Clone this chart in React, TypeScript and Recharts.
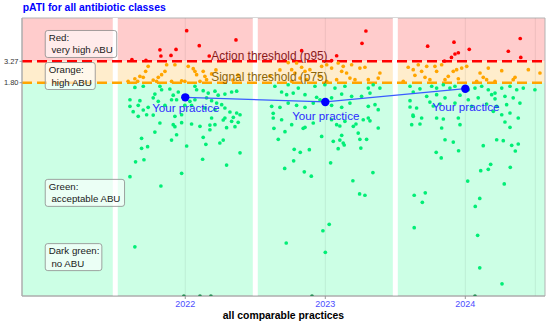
import React from 'react';
import { ComposedChart, Scatter, XAxis, YAxis, ReferenceArea, ReferenceLine } from 'recharts';

type Pt = [number, number];

const FONT = '"Liberation Sans", Arial, Helvetica, sans-serif';

// axis ranges (log y axis)
const X_MIN = 2020.834;
const X_MAX = 2024.569;
const Y_MIN = 0.0047;
const Y_MAX = 10.94;

const YEAR_TICKS = [2022, 2023, 2024];
const Y_TICKS = [1.8, 3.27];
const ACTION_P95 = 3.27;
const SIGNAL_P75 = 1.8;
const PANEL_GAPS = [2021.5, 2022.5, 2023.5];
const GRID_X = [2022, 2023, 2024, 2024.5];

// your practice
const practiceYears = [2022, 2023, 2024];
const practiceValues = [1.197, 1.052, 1.524];

// all comparable practices, [jittered year, pATI]
const red2022: Pt[] = [[2022.010, 7.68], [2022.362, 5.93], [2022.100, 5.05], [2021.934, 4.55], [2021.819, 4.50], [2021.898, 3.85], [2021.826, 3.79], [2022.171, 3.79], [2021.619, 3.44], [2021.719, 3.36]];
const red2023: Pt[] = [[2023.290, 7.61], [2023.262, 5.40], [2022.831, 4.40], [2023.081, 3.82], [2023.045, 3.34]];
const red2024: Pt[] = [[2023.731, 4.98], [2023.919, 5.57], [2024.028, 4.57], [2023.950, 4.15], [2023.926, 4.01], [2023.901, 3.64], [2023.851, 3.30], [2024.307, 4.33], [2024.392, 6.18], [2024.396, 3.64]];

const orange2022: Pt[] = [[2021.867, 2.97], [2021.735, 2.84], [2021.717, 2.47], [2021.676, 2.15], [2021.640, 2.01], [2021.700, 2.09], [2021.660, 1.87], [2021.855, 2.47], [2021.831, 2.25], [2021.807, 2.09], [2021.771, 1.94], [2021.795, 1.87], [2022.021, 2.84], [2022.057, 2.66], [2022.069, 2.47], [2022.081, 2.25], [2022.128, 2.47], [2022.140, 2.15], [2022.152, 1.96], [2021.974, 1.90], [2021.997, 1.87], [2022.105, 1.87], [2021.902, 1.87], [2022.188, 2.30], [2021.592, 1.87], [2021.926, 2.97], [2022.219, 2.57], [2022.340, 1.94], [2022.376, 2.23]];
const orange2023: Pt[] = [[2022.735, 3.16], [2022.795, 3.12], [2022.831, 2.77], [2022.760, 2.59], [2022.783, 2.36], [2022.855, 2.47], [2022.890, 2.59], [2022.819, 2.05], [2022.867, 1.96], [2022.760, 1.87], [2022.974, 2.84], [2023.010, 2.97], [2023.045, 2.71], [2023.092, 3.12], [2023.128, 2.84], [2023.188, 2.97], [2023.247, 2.71], [2023.283, 2.77], [2023.152, 2.36], [2023.176, 2.05], [2023.212, 1.96], [2023.081, 1.96], [2023.010, 1.87], [2022.962, 2.15], [2023.307, 1.96], [2023.378, 2.05], [2023.390, 2.36], [2023.117, 2.47], [2022.676, 2.57], [2022.605, 2.17]];
const orange2024: Pt[] = [[2023.592, 2.77], [2023.628, 2.59], [2023.664, 2.97], [2023.724, 2.84], [2023.688, 2.47], [2023.640, 2.21], [2023.712, 2.09], [2023.747, 1.96], [2023.557, 1.87], [2023.783, 2.84], [2023.795, 2.47], [2023.878, 2.15], [2023.855, 1.96], [2023.914, 2.47], [2023.938, 2.59], [2023.974, 2.71], [2024.010, 2.84], [2023.950, 2.01], [2024.105, 2.36], [2024.128, 2.09], [2024.152, 1.96], [2024.164, 2.71], [2024.260, 2.52], [2024.342, 1.96], [2024.355, 2.09], [2024.450, 2.59], [2024.533, 2.36], [2024.081, 1.87], [2024.212, 1.87], [2023.831, 2.97]];

const green2022: Pt[] = [
  [2021.640, 1.58], [2021.700, 1.63], [2021.819, 1.63], [2021.831, 1.48], [2021.890, 1.51], [2021.950, 1.39], [2022.069, 1.63], [2022.081, 1.48], [2022.128, 1.44], [2022.164, 1.35], [2022.212, 1.42], [2022.235, 1.27], [2022.283, 1.31], [2022.331, 1.39], [2022.367, 1.42], [2021.783, 1.31], [2021.914, 1.27],
  [2021.605, 1.12], [2021.676, 1.09], [2021.771, 1.18], [2021.807, 1.07], [2021.902, 1.12], [2021.938, 1.12], [2022.033, 1.07], [2022.069, 1.12], [2022.152, 1.18], [2022.188, 1.09], [2022.224, 1.02], [2022.260, 0.975],
  [2021.605, 0.932], [2021.664, 0.959], [2021.735, 0.906], [2021.855, 0.959], [2021.997, 0.959], [2022.045, 0.959], [2022.140, 0.889], [2022.212, 0.848], [2022.283, 0.889], [2022.319, 0.795], [2022.367, 0.773],
  [2021.700, 0.841], [2021.628, 0.802], [2021.664, 0.705], [2021.724, 0.737], [2021.771, 0.731], [2021.926, 0.705], [2021.974, 0.737], [2022.188, 0.673], [2022.283, 0.673], [2022.343, 0.686], [2022.391, 0.737],
  [2021.819, 0.585], [2021.914, 0.558], [2021.974, 0.590], [2021.926, 0.528], [2022.045, 0.569], [2022.105, 0.534], [2022.176, 0.553], [2022.271, 0.636], [2022.295, 0.513], [2022.355, 0.528], [2022.378, 0.597], [2022.331, 0.614], [2022.212, 0.558], [2022.176, 0.485],
  [2021.783, 0.455], [2021.938, 0.422], [2021.688, 0.382], [2021.902, 0.364], [2022.128, 0.393], [2022.271, 0.364], [2022.147, 0.323], [2022.010, 0.308], [2022.247, 0.335], [2021.731, 0.302], [2021.688, 0.289], [2022.391, 0.255],
  [2021.645, 0.198], [2021.705, 0.210], [2022.124, 0.213], [2022.295, 0.181], [2021.605, 0.131], [2021.974, 0.144], [2021.826, 0.101], [2021.640, 0.0185],
];
const green2023: Pt[] = [
  [2022.640, 1.63], [2022.735, 1.70], [2022.807, 1.55], [2022.926, 1.63], [2022.997, 1.70], [2023.069, 1.55], [2023.140, 1.63], [2023.307, 1.55], [2023.342, 1.70], [2023.390, 1.55],
  [2022.688, 1.39], [2022.724, 1.29], [2022.771, 1.35], [2022.855, 1.29], [2022.938, 1.20], [2022.962, 1.12], [2023.045, 1.18], [2023.117, 1.31], [2023.188, 1.23], [2023.259, 1.23], [2023.319, 1.35],
  [2022.617, 0.932], [2022.676, 0.906], [2022.735, 1.02], [2022.795, 0.959], [2022.855, 0.906], [2022.914, 1.02], [2023.045, 0.959], [2023.117, 0.906], [2023.176, 1.02], [2023.307, 0.932], [2023.355, 0.975], [2023.378, 0.848],
  [2022.628, 0.767], [2022.628, 0.673], [2022.688, 0.641], [2022.760, 0.558], [2022.855, 0.519], [2022.914, 0.585], [2023.045, 0.641], [2023.081, 0.558], [2023.140, 0.614], [2023.200, 0.534], [2023.271, 0.641], [2023.307, 0.673], [2023.378, 0.509], [2022.633, 0.504], [2022.712, 0.459], [2022.842, 0.504], [2023.319, 0.622], [2023.219, 0.569], [2023.104, 0.538],
  [2022.664, 0.371], [2022.974, 0.403], [2023.117, 0.415], [2023.235, 0.442], [2023.057, 0.351], [2023.128, 0.335], [2023.104, 0.364], [2023.247, 0.371], [2023.295, 0.371],
  [2022.778, 0.281], [2022.821, 0.258], [2022.886, 0.278], [2023.092, 0.286], [2023.135, 0.317], [2023.254, 0.291],
  [2022.774, 0.204], [2022.710, 0.165], [2022.850, 0.150], [2022.900, 0.133], [2023.038, 0.193], [2023.340, 0.147], [2023.197, 0.117], [2023.245, 0.081], [2023.283, 0.078], [2023.028, 0.0347], [2022.983, 0.0290], [2022.721, 0.0206], [2023.000, 0.0159],
];
const green2024: Pt[] = [
  [2023.605, 1.63], [2023.676, 1.52], [2023.760, 1.63], [2023.795, 1.55], [2023.843, 1.70], [2023.890, 1.55], [2023.926, 1.63], [2024.021, 1.48], [2024.069, 1.55], [2024.117, 1.63], [2024.164, 1.48], [2024.212, 1.35], [2024.260, 1.55], [2024.319, 1.63], [2024.367, 1.48], [2024.414, 1.55], [2024.497, 1.48],
  [2023.628, 1.39], [2023.724, 1.23], [2023.795, 1.29], [2023.855, 1.18], [2023.962, 1.27], [2024.021, 1.12], [2024.092, 1.18], [2024.188, 1.29], [2024.212, 1.15], [2024.283, 1.23], [2024.342, 1.18],
  [2023.605, 1.09], [2023.652, 0.889], [2023.747, 1.05], [2023.819, 0.994], [2023.926, 1.02], [2024.045, 0.932], [2024.152, 0.994], [2024.224, 0.932], [2024.295, 0.975], [2024.390, 1.02], [2024.319, 0.773], [2024.260, 0.737], [2024.200, 0.811], [2023.605, 0.915], [2023.626, 0.731], [2023.771, 0.940],
  [2023.628, 0.705], [2023.688, 0.673], [2023.795, 0.673], [2023.843, 0.654], [2023.950, 0.673], [2023.617, 0.558], [2023.676, 0.569], [2023.831, 0.509], [2023.962, 0.558], [2024.283, 0.602], [2024.319, 0.519], [2024.378, 0.673],
  [2023.855, 0.367], [2023.914, 0.344], [2024.128, 0.311], [2024.224, 0.367], [2024.271, 0.357], [2024.331, 0.314], [2024.378, 0.326],
  [2023.792, 0.258], [2023.828, 0.221], [2023.952, 0.270], [2024.357, 0.268], [2024.181, 0.185], [2024.110, 0.155], [2024.164, 0.161], [2024.321, 0.170], [2024.017, 0.116], [2024.278, 0.107],
  [2023.635, 0.078], [2023.714, 0.0835], [2023.693, 0.0640], [2024.103, 0.0715], [2024.071, 0.0572], [2023.635, 0.0316], [2024.088, 0.0255], [2024.103, 0.0103], [2024.262, 0.0066],
];

// practices with no antibiotic use (pATI = 0), drawn on the bottom edge
const zeroYears = [2021.990, 2022.105, 2022.183, 2022.905, 2024.069];

// zone labels in the left panel
const zoneAnchors = [5.3, 2.17, 0.0834, 0.0139];
const zoneHeads = ['Red:', 'Orange:', 'Green:', 'Dark green:'];
const zoneTails = ['very high ABU', 'high ABU', 'acceptable ABU', 'no ABU'];
const ZONE_BOX_W = [71.5, 50, 79.3, 56.6];

const LABEL_DY: Record<number, number> = { 2022: 15, 2023: 17.6, 2024: 22.6 };

const toRows = (pts: Pt[]) => pts.map(([x, y]) => ({ x, y }));
const redData = toRows([...red2022, ...red2023, ...red2024]);
const orangeData = toRows([...orange2022, ...orange2023, ...orange2024]);
const greenData = toRows([...green2022, ...green2023, ...green2024]);
const zeroData = zeroYears.map(x => ({ x, y: Y_MIN }));
const practiceData = practiceYears.map((x, i) => ({ x, y: practiceValues[i] }));
const zoneData = zoneAnchors.map((y, i) => ({ x: 2021, y, i }));
const thresholdData = [
  { x: 2022.601, y: ACTION_P95, text: 'Action threshold (p95)', color: '#8b1a1a' },
  { x: 2022.601, y: SIGNAL_P75, text: 'Signal threshold (p75)', color: '#8b6508' },
];

const dot = (fill: string) => (p: any) => <circle cx={p.cx} cy={p.cy} r={1.85} fill={fill} />;

const PracticeDot = (p: any) => {
  const dy = LABEL_DY[p.payload.x] ?? 16;
  return (
    <g>
      <circle cx={p.cx} cy={p.cy} r={4.2} fill="#0000ff" />
      <text x={p.cx + 0.5} y={p.cy + dy} textAnchor="middle" fontSize={11.6} fill="#2b2bff" fontFamily={FONT}>
        Your practice
      </text>
    </g>
  );
};

const ZoneBox = (p: any) => {
  const i = p.payload.i;
  const h = 27;
  const top = p.cy - h / 2;
  return (
    <g>
      <rect x={p.cx} y={top} width={ZONE_BOX_W[i]} height={h} rx={2.5} fill="rgba(255,255,255,0.6)" stroke="#8c8c8c" strokeWidth={0.8} />
      <text x={p.cx + 3.5} y={top + 10.3} fontSize={9.7} fill="#1a1a1a" fontFamily={FONT}>{zoneHeads[i]}</text>
      <text x={p.cx + 6.2} y={top + 23} fontSize={9.7} fill="#1a1a1a" fontFamily={FONT}>{zoneTails[i]}</text>
    </g>
  );
};

const ThresholdText = (p: any) => (
  <text x={p.cx} y={p.cy - 1.5} textAnchor="middle" fontSize={11.9} fill={p.payload.color} fontFamily={FONT}>
    {p.payload.text}
  </text>
);

const XTitle = (props: any) => {
  const vb = props.viewBox;
  return (
    <text x={vb.x + vb.width / 2} y={vb.y + 23} textAnchor="middle" fontSize={10.4} fontWeight="bold" fill="#000" fontFamily={FONT}>
      all comparable practices
    </text>
  );
};

export default function App() {
  return (
    <div style={{ position: 'absolute', left: 0, top: 0, width: 550, height: 324, background: '#fff', fontFamily: FONT }}>
      <div style={{ position: 'absolute', left: 22.7, top: 2.7, fontSize: 10.4, lineHeight: '10.4px', fontWeight: 'bold', color: '#0000ff', whiteSpace: 'nowrap' }}>
        pATI for all antibiotic classes
      </div>
      <ComposedChart width={550} height={324} margin={{ top: 18, right: 5, bottom: 0, left: 0 }} style={{ fontFamily: FONT }}>
        <XAxis
          type="number"
          dataKey="x"
          domain={[X_MIN, X_MAX]}
          ticks={YEAR_TICKS}
          allowDataOverflow
          height={28}
          tickSize={3}
          tickMargin={2}
          tick={{ fontSize: 9, fill: '#4d4dff' }}
          tickLine={{ stroke: '#999' }}
          axisLine={{ stroke: '#aaa' }}
          label={<XTitle />}
        />
        <YAxis
          type="number"
          dataKey="y"
          scale="log"
          domain={[Y_MIN, Y_MAX]}
          ticks={Y_TICKS}
          allowDataOverflow
          width={22}
          tickSize={2.5}
          tickMargin={1}
          tickFormatter={(v: number) => v.toFixed(2)}
          tick={{ fontSize: 7.5, fill: '#333' }}
          tickLine={{ stroke: '#999' }}
          axisLine={{ stroke: '#aaa' }}
        />
        <ReferenceArea y1={ACTION_P95} y2={Y_MAX} fill="#ffcccc" fillOpacity={1} stroke="none" />
        <ReferenceArea y1={SIGNAL_P75} y2={ACTION_P95} fill="#ffedcc" fillOpacity={1} stroke="none" />
        <ReferenceArea y1={Y_MIN} y2={SIGNAL_P75} fill="#ccffe5" fillOpacity={1} stroke="none" />
        {GRID_X.map(x => (
          <ReferenceLine key={`g${x}`} x={x} stroke="#000" strokeOpacity={0.07} strokeWidth={1} />
        ))}
        {PANEL_GAPS.map(x => (
          <ReferenceLine key={`s${x}`} x={x} stroke="#ffffff" strokeWidth={5} />
        ))}
        <ReferenceLine y={ACTION_P95} stroke="#ff0000" strokeWidth={2.5} strokeDasharray="10 5" />
        <ReferenceLine y={SIGNAL_P75} stroke="#ffa500" strokeWidth={2.5} strokeDasharray="10 5" />
        <ReferenceArea x1={X_MIN} x2={X_MAX} y1={Y_MIN} y2={Y_MAX} fill="none" stroke="#b3b3b3" strokeWidth={1} />
        <Scatter data={greenData} shape={dot('#00ee76')} isAnimationActive={false} />
        <Scatter data={orangeData} shape={dot('#ffa500')} isAnimationActive={false} />
        <Scatter data={redData} shape={dot('#ff0000')} isAnimationActive={false} />
        <Scatter data={zeroData} shape={dot('#2e8b57')} isAnimationActive={false} />
        <Scatter data={thresholdData} shape={ThresholdText} isAnimationActive={false} />
        <Scatter
          data={practiceData}
          shape={PracticeDot}
          line={{ stroke: '#3a5cff', strokeWidth: 1.2 }}
          lineType="joint"
          isAnimationActive={false}
        />
        <Scatter data={zoneData} shape={ZoneBox} isAnimationActive={false} />
      </ComposedChart>
    </div>
  );
}
